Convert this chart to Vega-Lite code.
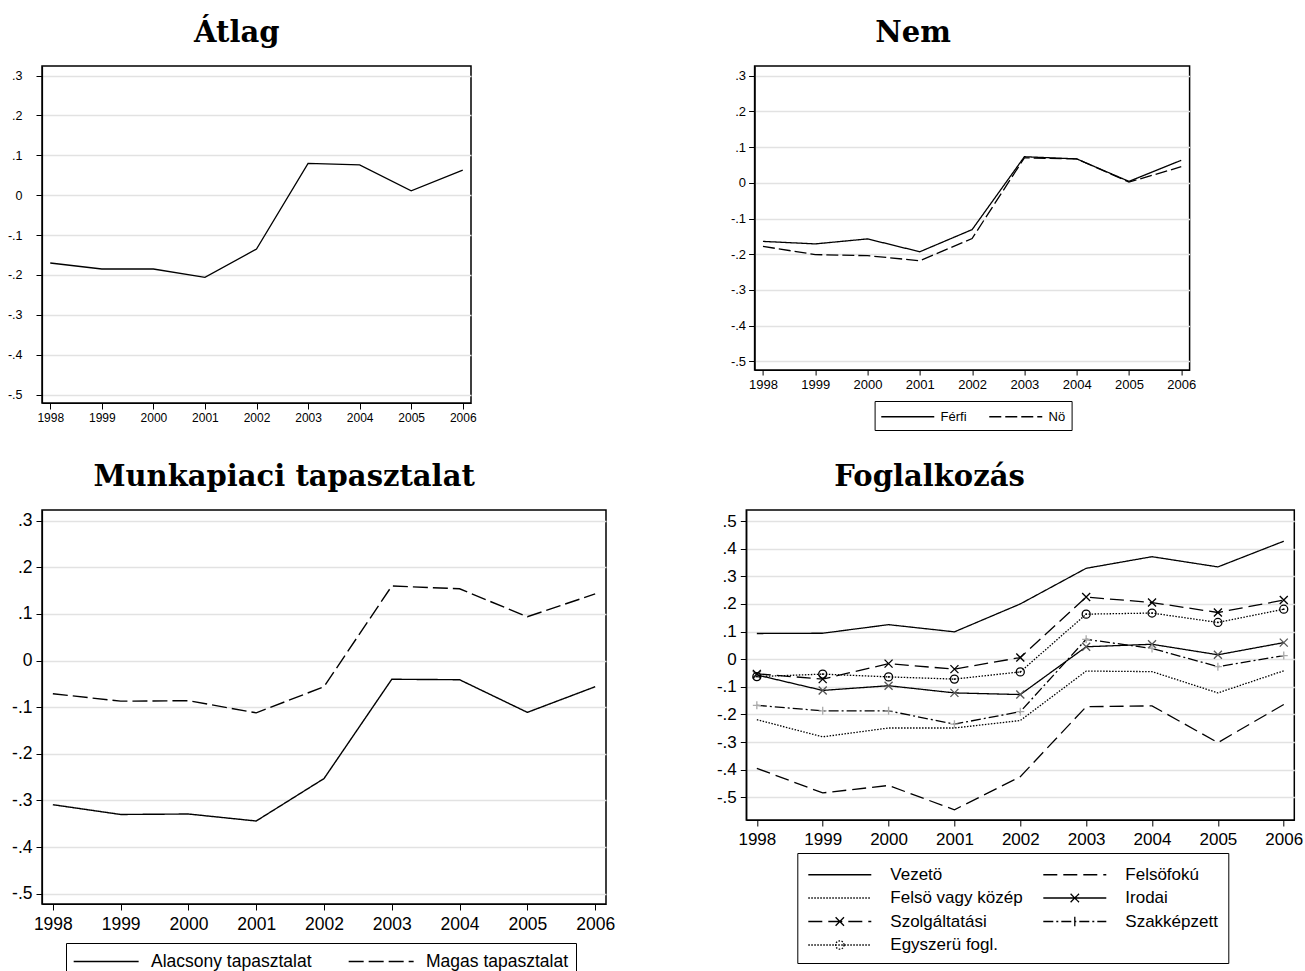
{
  "$schema": "https://vega.github.io/schema/vega-lite/v6.json",
  "background": "white",
  "padding": {"left": 6, "top": 18, "right": 0, "bottom": 0},
  "datasets": {
    "atlag": [
      {"year": 1998, "series": "Átlag", "value": -0.170},
      {"year": 1999, "series": "Átlag", "value": -0.185},
      {"year": 2000, "series": "Átlag", "value": -0.185},
      {"year": 2001, "series": "Átlag", "value": -0.206},
      {"year": 2002, "series": "Átlag", "value": -0.135},
      {"year": 2003, "series": "Átlag", "value": 0.080},
      {"year": 2004, "series": "Átlag", "value": 0.076},
      {"year": 2005, "series": "Átlag", "value": 0.011},
      {"year": 2006, "series": "Átlag", "value": 0.063}
    ],
    "nem": [
      {"year": 1998, "series": "Férfi", "value": -0.164},
      {"year": 1999, "series": "Férfi", "value": -0.171},
      {"year": 2000, "series": "Férfi", "value": -0.157},
      {"year": 2001, "series": "Férfi", "value": -0.193},
      {"year": 2002, "series": "Férfi", "value": -0.131},
      {"year": 2003, "series": "Férfi", "value": 0.073},
      {"year": 2004, "series": "Férfi", "value": 0.067},
      {"year": 2005, "series": "Férfi", "value": 0.004},
      {"year": 2006, "series": "Férfi", "value": 0.063},
      {"year": 1998, "series": "Nö", "value": -0.178},
      {"year": 1999, "series": "Nö", "value": -0.201},
      {"year": 2000, "series": "Nö", "value": -0.204},
      {"year": 2001, "series": "Nö", "value": -0.218},
      {"year": 2002, "series": "Nö", "value": -0.156},
      {"year": 2003, "series": "Nö", "value": 0.070},
      {"year": 2004, "series": "Nö", "value": 0.067},
      {"year": 2005, "series": "Nö", "value": 0.002},
      {"year": 2006, "series": "Nö", "value": 0.045}
    ],
    "munka": [
      {"year": 1998, "series": "Alacsony tapasztalat", "value": -0.309},
      {"year": 1999, "series": "Alacsony tapasztalat", "value": -0.330},
      {"year": 2000, "series": "Alacsony tapasztalat", "value": -0.329},
      {"year": 2001, "series": "Alacsony tapasztalat", "value": -0.344},
      {"year": 2002, "series": "Alacsony tapasztalat", "value": -0.253},
      {"year": 2003, "series": "Alacsony tapasztalat", "value": -0.040},
      {"year": 2004, "series": "Alacsony tapasztalat", "value": -0.041},
      {"year": 2005, "series": "Alacsony tapasztalat", "value": -0.111},
      {"year": 2006, "series": "Alacsony tapasztalat", "value": -0.056},
      {"year": 1998, "series": "Magas tapasztalat", "value": -0.071},
      {"year": 1999, "series": "Magas tapasztalat", "value": -0.087},
      {"year": 2000, "series": "Magas tapasztalat", "value": -0.086},
      {"year": 2001, "series": "Magas tapasztalat", "value": -0.112},
      {"year": 2002, "series": "Magas tapasztalat", "value": -0.056},
      {"year": 2003, "series": "Magas tapasztalat", "value": 0.160},
      {"year": 2004, "series": "Magas tapasztalat", "value": 0.154},
      {"year": 2005, "series": "Magas tapasztalat", "value": 0.094},
      {"year": 2006, "series": "Magas tapasztalat", "value": 0.143}
    ],
    "fogl": [
      {"year": 1998, "series": "Vezetö", "value": 0.093},
      {"year": 1999, "series": "Vezetö", "value": 0.094},
      {"year": 2000, "series": "Vezetö", "value": 0.125},
      {"year": 2001, "series": "Vezetö", "value": 0.099},
      {"year": 2002, "series": "Vezetö", "value": 0.200},
      {"year": 2003, "series": "Vezetö", "value": 0.329},
      {"year": 2004, "series": "Vezetö", "value": 0.371},
      {"year": 2005, "series": "Vezetö", "value": 0.334},
      {"year": 2006, "series": "Vezetö", "value": 0.427},
      {"year": 1998, "series": "Felsöfokú", "value": -0.395},
      {"year": 1999, "series": "Felsöfokú", "value": -0.484},
      {"year": 2000, "series": "Felsöfokú", "value": -0.457},
      {"year": 2001, "series": "Felsöfokú", "value": -0.545},
      {"year": 2002, "series": "Felsöfokú", "value": -0.425},
      {"year": 2003, "series": "Felsöfokú", "value": -0.172},
      {"year": 2004, "series": "Felsöfokú", "value": -0.169},
      {"year": 2005, "series": "Felsöfokú", "value": -0.302},
      {"year": 2006, "series": "Felsöfokú", "value": -0.164},
      {"year": 1998, "series": "Felsö vagy közép", "value": -0.219},
      {"year": 1999, "series": "Felsö vagy közép", "value": -0.281},
      {"year": 2000, "series": "Felsö vagy közép", "value": -0.249},
      {"year": 2001, "series": "Felsö vagy közép", "value": -0.249},
      {"year": 2002, "series": "Felsö vagy közép", "value": -0.222},
      {"year": 2003, "series": "Felsö vagy közép", "value": -0.043},
      {"year": 2004, "series": "Felsö vagy közép", "value": -0.045},
      {"year": 2005, "series": "Felsö vagy közép", "value": -0.122},
      {"year": 2006, "series": "Felsö vagy közép", "value": -0.042},
      {"year": 1998, "series": "Irodai", "value": -0.057},
      {"year": 1999, "series": "Irodai", "value": -0.113},
      {"year": 2000, "series": "Irodai", "value": -0.096},
      {"year": 2001, "series": "Irodai", "value": -0.122},
      {"year": 2002, "series": "Irodai", "value": -0.128},
      {"year": 2003, "series": "Irodai", "value": 0.045},
      {"year": 2004, "series": "Irodai", "value": 0.054},
      {"year": 2005, "series": "Irodai", "value": 0.016},
      {"year": 2006, "series": "Irodai", "value": 0.060},
      {"year": 1998, "series": "Szolgáltatási", "value": -0.053},
      {"year": 1999, "series": "Szolgáltatási", "value": -0.072},
      {"year": 2000, "series": "Szolgáltatási", "value": -0.016},
      {"year": 2001, "series": "Szolgáltatási", "value": -0.036},
      {"year": 2002, "series": "Szolgáltatási", "value": 0.006},
      {"year": 2003, "series": "Szolgáltatási", "value": 0.225},
      {"year": 2004, "series": "Szolgáltatási", "value": 0.205},
      {"year": 2005, "series": "Szolgáltatási", "value": 0.169},
      {"year": 2006, "series": "Szolgáltatási", "value": 0.214},
      {"year": 1998, "series": "Szakképzett", "value": -0.167},
      {"year": 1999, "series": "Szakképzett", "value": -0.187},
      {"year": 2000, "series": "Szakképzett", "value": -0.187},
      {"year": 2001, "series": "Szakképzett", "value": -0.235},
      {"year": 2002, "series": "Szakképzett", "value": -0.190},
      {"year": 2003, "series": "Szakképzett", "value": 0.072},
      {"year": 2004, "series": "Szakképzett", "value": 0.039},
      {"year": 2005, "series": "Szakképzett", "value": -0.027},
      {"year": 2006, "series": "Szakképzett", "value": 0.013},
      {"year": 1998, "series": "Egyszerü fogl.", "value": -0.063},
      {"year": 1999, "series": "Egyszerü fogl.", "value": -0.054},
      {"year": 2000, "series": "Egyszerü fogl.", "value": -0.064},
      {"year": 2001, "series": "Egyszerü fogl.", "value": -0.072},
      {"year": 2002, "series": "Egyszerü fogl.", "value": -0.046},
      {"year": 2003, "series": "Egyszerü fogl.", "value": 0.163},
      {"year": 2004, "series": "Egyszerü fogl.", "value": 0.167},
      {"year": 2005, "series": "Egyszerü fogl.", "value": 0.133},
      {"year": 2006, "series": "Egyszerü fogl.", "value": 0.181}
    ]
  },
  "spacing": 30,
  "resolve": {"scale": {"strokeDash": "independent", "shape": "independent", "color": "independent"}, "legend": {"strokeDash": "independent", "shape": "independent", "color": "independent"}},
  "vconcat": [
    {
      "resolve": {"scale": {"strokeDash": "independent", "shape": "independent", "color": "independent"}, "legend": {"strokeDash": "independent", "shape": "independent", "color": "independent"}},
      "hconcat": [
        {
          "width": 429,
          "height": 337,
          "title": {"text": "Átlag", "dx": -5},
          "data": {"name": "atlag"},
          "mark": {"type": "line", "color": "black", "strokeWidth": 1.3},
          "encoding": {
            "x": {"field": "year", "type": "quantitative", "scale": {"domain": [1997.84, 2006.16], "nice": false, "zero": false},
              "axis": {"values": [1998, 1999, 2000, 2001, 2002, 2003, 2004, 2005, 2006], "format": "d", "title": null, "grid": false, "labelFontSize": 12, "tickSize": 6, "labelPadding": 3}},
            "y": {"field": "value", "type": "quantitative", "scale": {"domain": [-0.521, 0.324], "nice": false, "zero": false},
              "axis": {"values": [-0.5, -0.4, -0.3, -0.2, -0.1, 0, 0.1, 0.2, 0.3], "labelExpr": "datum.value == 0 ? '0' : (datum.value < 0 ? '-' : '') + replace(format(abs(datum.value), '.1f'), '0.', '.')", "title": null, "labelFontSize": 12.5, "tickSize": 6, "labelPadding": 14}}
          }
        },
        {
          "width": 435,
          "height": 304,
          "title": {"text": "Nem", "dx": -50},
          "data": {"name": "nem"},
          "mark": {"type": "line", "color": "black", "strokeWidth": 1.3},
          "encoding": {
            "x": {"field": "year", "type": "quantitative", "scale": {"domain": [1997.84, 2006.16], "nice": false, "zero": false},
              "axis": {"values": [1998, 1999, 2000, 2001, 2002, 2003, 2004, 2005, 2006], "format": "d", "title": null, "grid": false, "labelFontSize": 13, "tickSize": 5, "labelPadding": 3}},
            "y": {"field": "value", "type": "quantitative", "scale": {"domain": [-0.524, 0.327], "nice": false, "zero": false},
              "axis": {"values": [-0.5, -0.4, -0.3, -0.2, -0.1, 0, 0.1, 0.2, 0.3], "labelExpr": "datum.value == 0 ? '0' : (datum.value < 0 ? '-' : '') + replace(format(abs(datum.value), '.1f'), '0.', '.')", "title": null, "labelFontSize": 13, "tickSize": 6, "labelPadding": 3}},
            "strokeDash": {"field": "series", "type": "nominal",
              "scale": {"domain": ["Férfi", "Nö"], "range": [[1, 0], [12, 4]]},
              "legend": {"title": null, "orient": "none", "legendX": 120, "legendY": 335, "direction": "horizontal",
                "symbolType": "M-1,0H5", "symbolSize": 312, "labelOffset": 41, "labelFontSize": 13, "labelLimit": 300, "columnPadding": 20, "padding": 6}}
          }
        }
      ],
      "spacing": 283.6,
      "bounds": "flush"
    },
    {
      "resolve": {"scale": {"strokeDash": "independent", "shape": "independent", "color": "independent"}, "legend": {"strokeDash": "independent", "shape": "independent", "color": "independent"}},
      "hconcat": [
        {
          "width": 564,
          "height": 394,
          "title": {"text": "Munkapiaci tapasztalat", "dx": -29},
          "data": {"name": "munka"},
          "mark": {"type": "line", "color": "black", "strokeWidth": 1.4},
          "encoding": {
            "x": {"field": "year", "type": "quantitative", "scale": {"domain": [1997.84, 2006.16], "nice": false, "zero": false},
              "axis": {"values": [1998, 1999, 2000, 2001, 2002, 2003, 2004, 2005, 2006], "format": "d", "title": null, "grid": false, "labelFontSize": 17.5, "tickSize": 6, "labelPadding": 5}},
            "y": {"field": "value", "type": "quantitative", "scale": {"domain": [-0.522, 0.323], "nice": false, "zero": false},
              "axis": {"values": [-0.5, -0.4, -0.3, -0.2, -0.1, 0, 0.1, 0.2, 0.3], "labelExpr": "datum.value == 0 ? '0' : (datum.value < 0 ? '-' : '') + replace(format(abs(datum.value), '.1f'), '0.', '.')", "title": null, "labelFontSize": 17.5, "tickSize": 6, "labelPadding": 4}},
            "strokeDash": {"field": "series", "type": "nominal",
              "scale": {"domain": ["Alacsony tapasztalat", "Magas tapasztalat"], "range": [[1, 0], [15, 5]]},
              "legend": {"title": null, "orient": "none", "legendX": 24, "legendY": 433, "direction": "horizontal",
                "symbolType": "M-1,0H5", "symbolSize": 469, "labelOffset": 55, "labelFontSize": 17.5, "labelLimit": 300, "columnPadding": 34, "padding": 7}}
          }
        },
        {
          "width": 548,
          "height": 310,
          "title": {"text": "Foglalkozás", "dx": -80},
          "data": {"name": "fogl"},
          "encoding": {
            "x": {"field": "year", "type": "quantitative", "scale": {"domain": [1997.84, 2006.16], "nice": false, "zero": false},
              "axis": {"values": [1998, 1999, 2000, 2001, 2002, 2003, 2004, 2005, 2006], "format": "d", "title": null, "grid": false, "labelFontSize": 17, "tickSize": 6, "labelPadding": 5}},
            "y": {"field": "value", "type": "quantitative", "scale": {"domain": [-0.582, 0.54], "nice": false, "zero": false},
              "axis": {"values": [-0.5, -0.4, -0.3, -0.2, -0.1, 0, 0.1, 0.2, 0.3, 0.4, 0.5], "labelExpr": "datum.value == 0 ? '0' : (datum.value < 0 ? '-' : '') + replace(format(abs(datum.value), '.1f'), '0.', '.')", "title": null, "labelFontSize": 17, "tickSize": 6, "labelPadding": 4}}
          },
          "resolve": {"scale": {"strokeDash": "independent", "shape": "independent", "color": "independent"}},
          "layer": [
            {
              "mark": {"type": "line", "color": "black", "strokeWidth": 1.3},
              "encoding": {
                "strokeDash": {"field": "series", "type": "nominal",
                  "scale": {"domain": ["Vezetö", "Felsöfokú", "Felsö vagy közép", "Irodai", "Szolgáltatási", "Szakképzett", "Egyszerü fogl."],
                    "range": [[1, 0], [14, 6], [1.5, 1.5], [1, 0], [14, 6], [10, 3, 2, 3], [1.5, 1.5]]},
                  "legend": {"title": null, "orient": "none", "legendX": 51, "legendY": 343, "direction": "horizontal", "columns": 2,
                    "symbolType": "M-1,0H5", "symbolSize": 441, "labelOffset": 60, "labelFontSize": 17, "labelLimit": 300, "columnPadding": 17, "rowPadding": 3.5, "padding": 10,
                    "encode": {"symbols": {"update": {"shape": {"signal": "(datum.value === 'Irodai' || datum.value === 'Szolgáltatási') ? 'M-1,0H5M1.6,-0.4L2.4,0.4M1.6,0.4L2.4,-0.4' : datum.value === 'Szakképzett' ? 'M-1,0H5M2,-0.45V0.45' : datum.value === 'Egyszerü fogl.' ? 'M-1,0H5M2.4,0A0.4,0.4 0 1,1 1.6,0A0.4,0.4 0 1,1 2.4,0' : 'M-1,0H5'"}}}}}
                }
              }
            },
            {
              "transform": [{"filter": {"field": "series", "oneOf": ["Irodai", "Szolgáltatási", "Szakképzett", "Egyszerü fogl."]}}],
              "mark": {"type": "point", "filled": false, "strokeWidth": 1.3, "size": 64, "opacity": 1},
              "encoding": {
                "shape": {"field": "series", "type": "nominal",
                  "scale": {"domain": ["Irodai", "Szolgáltatási", "Szakképzett", "Egyszerü fogl."], "range": ["M-1,-1L1,1M-1,1L1,-1", "M-1,-1L1,1M-1,1L1,-1", "M-1,0H1M0,-1V1", "circle"]},
                  "legend": null},
                "color": {"field": "series", "type": "nominal",
                  "scale": {"domain": ["Irodai", "Szolgáltatási", "Szakképzett", "Egyszerü fogl."], "range": ["#555555", "#000000", "#aaaaaa", "#000000"]},
                  "legend": null}
              }
            },
            {
              "transform": [{"filter": {"field": "series", "equal": "Egyszerü fogl."}}],
              "mark": {"type": "point", "filled": true, "shape": "circle", "size": 3, "color": "black", "opacity": 1}
            }
          ]
        }
      ],
      "spacing": 140.3,
      "bounds": "flush"
    }
  ],
  "config": {
    "font": "Liberation Sans",
    "view": {"stroke": "black", "strokeWidth": 1.5},
    "axis": {"domainColor": "black", "domainWidth": 1.2, "tickColor": "black", "tickWidth": 1, "labelColor": "black", "labelFont": "Liberation Sans", "gridColor": "#e2e2e2", "gridWidth": 1.5},
    "title": {"font": "DejaVu Serif", "fontSize": 29, "fontWeight": "bold", "anchor": "middle", "frame": "bounds", "offset": 18, "color": "black"},
    "legend": {"strokeColor": "black", "fillColor": "white", "cornerRadius": 0, "labelFont": "Liberation Sans", "labelColor": "black", "symbolStrokeColor": "black", "symbolStrokeWidth": 1.3, "symbolFillColor": "transparent"}
  }
}
